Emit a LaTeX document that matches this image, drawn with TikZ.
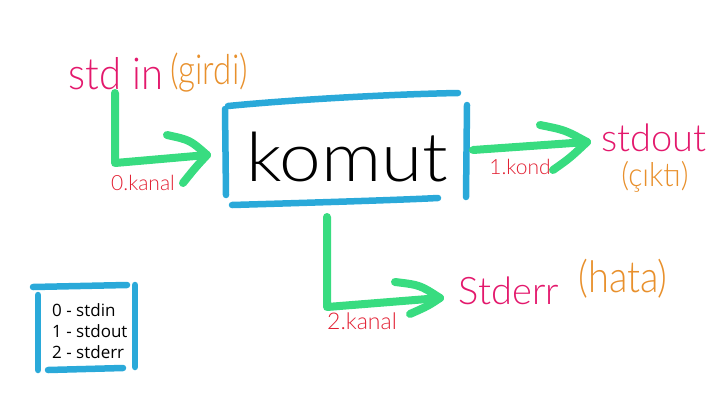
\documentclass[tikz,border=0pt]{standalone}
\usepackage{fontspec}
\setmainfont{Lato}
\IfFontExistsTF{Lato Light}{\newfontfamily\handfont{Lato Light}}{\newfontfamily\handfont{Lato}}
\newfontfamily\legendfont{Open Sans}
\definecolor{pgreen}{HTML}{38DC80}
\definecolor{pblue}{HTML}{2AA9D9}
\definecolor{pmag}{HTML}{E3186C}
\definecolor{porange}{HTML}{E8902C}
\definecolor{pred}{HTML}{E21F32}
\begin{document}
\begin{tikzpicture}[x=1pt,y=-1pt,
  gstroke/.style={line width=8pt, line cap=round, line join=round, draw=pgreen},
  bstroke/.style={line width=6.5pt, line cap=round, draw=pblue},
  hand/.style={inner sep=0pt, anchor=center},
  chan/.style={hand, text=pred, font=\handfont\fontsize{21}{21}\selectfont},
  stream/.style={hand, text=pmag, font=\handfont\fontsize{40}{40}\selectfont},
  meaning/.style={hand, text=porange, font=\handfont\fontsize{36}{36}\selectfont},
  legendtxt/.style={inner sep=0pt, anchor=west, font=\legendfont\fontsize{17}{17}\selectfont}]
\useasboundingbox (0,0) rectangle (720,400);

% main box
\draw[bstroke] (228,106) .. controls (300,99) and (400,94) .. (458,93);
\draw[bstroke] (225,109) -- (226,195);
\draw[bstroke] (232,205) .. controls (300,203) and (400,200) .. (438,198);
\draw[bstroke] (467,105) -- (466,197);
\node[hand, font=\handfont\fontsize{68}{68}\selectfont, xscale=1.1] (cmd) at (347,157) {komut};

% stdin
\node[stream, yscale=1.1] (stdin) at (116,74) {std in};
\node[meaning, xscale=0.92, yscale=1.15] (girdi) at (209,73) {(girdi)};
\coordinate (inTop) at (115,93);
\coordinate (inCorner) at (115,163);
\coordinate (inTip) at (207,155);
\coordinate (inBarbA) at (167,135);
\coordinate (inBarbB) at (183,183);
\draw[gstroke] (inTop) -- (inCorner) -- (inTip);
\draw[gstroke] (inBarbA) .. controls (190,140) .. (inTip);
\draw[gstroke] (inBarbB) .. controls (195,168) .. (inTip);
\node[chan] (k0) at (143,183) {0.kanal};

% stdout
\coordinate (outStart) at (473,150);
\coordinate (outTip) at (587,142);
\coordinate (outBarbA) at (540,125);
\coordinate (outBarbB) at (553,170);
\draw[gstroke] (outStart) -- (outTip);
\draw[gstroke] (outBarbA) .. controls (565,130) .. (outTip);
\draw[gstroke] (outBarbB) .. controls (570,158) .. (outTip);
\node[chan] (k1) at (520,167) {1.kond};
\node[stream, font=\handfont\fontsize{38}{38}\selectfont] (stdout) at (654,138) {stdout};
\node[meaning, font=\handfont\fontsize{30}{30}\selectfont, yscale=1.1] (cikti) at (655,177) {(çıktı)};

% stderr
\coordinate (errTop) at (327,217);
\coordinate (errCorner) at (327,307);
\coordinate (errTip) at (440,298);
\coordinate (errBarbA) at (395,282);
\coordinate (errBarbB) at (410,314);
\draw[gstroke] (errTop) -- (errCorner) -- (errTip);
\draw[gstroke] (errBarbA) .. controls (420,285) .. (errTip);
\draw[gstroke] (errBarbB) .. controls (428,306) .. (errTip);
\node[chan, font=\handfont\fontsize{23}{23}\selectfont] (k2) at (362,321) {2.kanal};
\node[stream, font=\handfont\fontsize{38}{38}\selectfont] (stderr) at (509,291) {Stderr};
\node[meaning, font=\handfont\fontsize{38}{38}\selectfont, yscale=1.15] (hata) at (623,279) {(hata)};

% legend
\draw[bstroke] (33,287) -- (127,285);
\draw[bstroke] (135,285) -- (135,367);
\draw[bstroke] (38,295) -- (38,370);
\draw[bstroke] (48,370) -- (123,368);
\node[legendtxt] (l0) at (52,310) {0 - stdin};
\node[legendtxt] (l1) at (52,331) {1 - stdout};
\node[legendtxt] (l2) at (52,352) {2 - stderr};
\end{tikzpicture}
\end{document}
